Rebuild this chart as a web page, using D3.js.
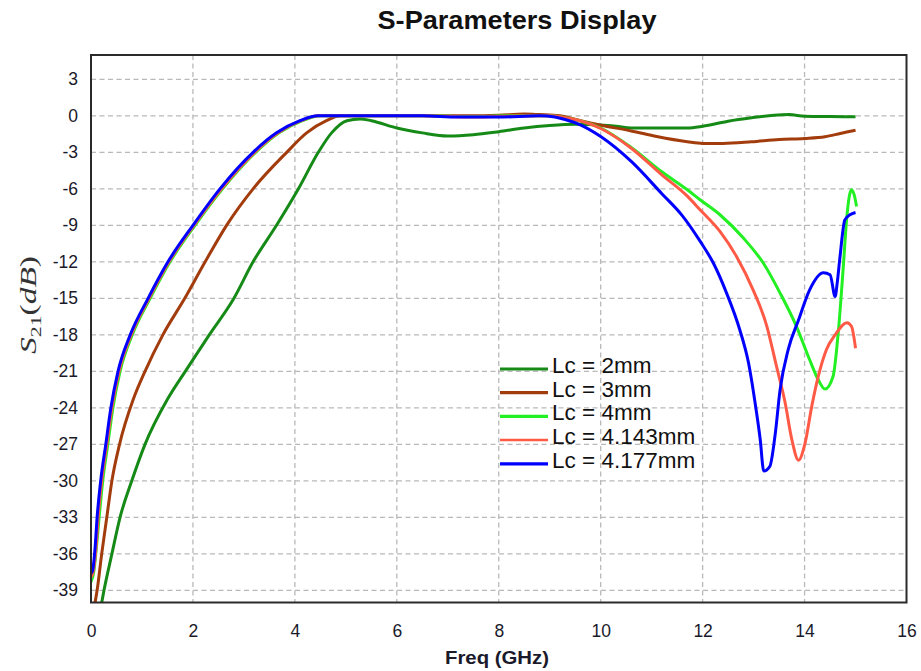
<!DOCTYPE html>
<html>
<head>
<meta charset="utf-8">
<script src="https://cdn.jsdelivr.net/npm/d3@7"></script>
<style>
  html, body { margin: 0; padding: 0; background: #fff; }
  svg { display: block; }
</style>
</head>
<body>
<svg id="chart" width="921" height="671"></svg>
<script>
// S21 of the filter for several coupling lengths Lc (frequency in GHz, S21 in dB)
const seriesNames = ["Lc = 2mm", "Lc = 3mm", "Lc = 4mm", "Lc = 4.143mm", "Lc = 4.177mm"];
const seriesColors = ["#168a16", "#a33c0c", "#22f022", "#ff5a45", "#0000ff"];

const lc2Freq = [0.21, 0.255, 0.41, 0.57, 0.8, 1.06, 1.5, 1.85, 2.32, 2.79, 3.18, 3.64, 4.07, 4.46, 4.72, 5.02, 5.28, 5.5, 6.0, 6.5, 7.0, 7.5, 8.0, 8.5, 9.0, 9.5, 10.0, 10.3, 10.6, 11.2, 11.7, 12.0, 12.5, 12.96, 13.4, 13.7, 14.0, 14.5, 15.0];
const lc2S21 = [-40, -39, -36, -33, -30, -27, -23.3, -21, -18, -15.1, -12, -9, -6, -3, -1.4, -0.4, -0.25, -0.4, -1.0, -1.4, -1.65, -1.55, -1.3, -1.0, -0.8, -0.7, -0.75, -0.85, -1.0, -1.0, -1.0, -0.86, -0.44, -0.16, 0.05, 0.1, -0.03, -0.06, -0.08];

const lc3Freq = [0.08, 0.12, 0.21, 0.31, 0.41, 0.56, 0.83, 1.06, 1.41, 1.84, 2.24, 2.66, 3.18, 3.84, 4.23, 4.62, 4.89, 5.5, 6.5, 7.5, 8.0, 8.5, 8.8, 9.2, 9.6, 10.0, 10.6, 11.1, 11.7, 12.0, 12.4, 12.96, 13.5, 14.0, 14.4, 14.7, 15.0];
const lc3S21 = [-40, -39, -36, -33, -30, -27, -23.3, -21, -18, -15, -12, -9, -6, -3, -1.4, -0.4, 0, 0, 0, 0, 0.05, 0.15, 0.1, 0, -0.4, -0.77, -1.24, -1.7, -2.13, -2.27, -2.27, -2.13, -1.94, -1.86, -1.72, -1.45, -1.18];

const lc4Freq = [0, 0.05, 0.11, 0.16, 0.23, 0.33, 0.43, 0.57, 0.81, 1.16, 1.55, 2.04, 2.58, 3.23, 3.69, 4.15, 4.5, 5.5, 6.5, 7.5, 8.2, 9.0, 9.3, 9.6, 10.0, 10.6, 11.2, 11.7, 11.95, 12.34, 12.8, 13.19, 13.52, 13.84, 14.1, 14.27, 14.4, 14.56, 14.66, 14.76, 14.83, 14.92, 14.99, 15.02];
const lc4S21 = [-38.3, -37.6, -35.3, -33, -30, -27, -24, -21, -18, -15, -12, -9, -6, -3, -1.4, -0.4, 0, 0, 0, -0.05, 0, 0, -0.15, -0.4, -1.0, -2.6, -4.6, -6.08, -6.9, -8.13, -10.05, -12.1, -14.57, -17.3, -20.05, -21.7, -22.46, -21.4, -17.86, -12.4, -8.27, -6.08, -6.77, -7.45];

const lc4143Freq = [0, 0.04, 0.1, 0.14, 0.21, 0.31, 0.41, 0.55, 0.79, 1.14, 1.53, 2.02, 2.56, 3.21, 3.67, 4.12, 4.47, 5.5, 6.5, 7.5, 8.0, 9.0, 9.3, 9.6, 10.0, 10.6, 11.2, 11.7, 11.95, 12.34, 12.67, 12.99, 13.26, 13.45, 13.62, 13.75, 13.88, 14.01, 14.14, 14.27, 14.43, 14.6, 14.83, 14.92, 15.0];
const lc4143S21 = [-37.9, -37.5, -35.4, -33, -30, -27, -24, -21, -18, -15, -12, -9, -6, -3, -1.4, -0.4, 0, 0, 0, -0.1, -0.05, 0, -0.15, -0.4, -1.04, -2.66, -4.85, -6.6, -7.72, -9.5, -11.6, -14.3, -17.3, -20.6, -23.6, -26.6, -28.3, -26.9, -23.9, -21.4, -19.2, -18.0, -17.0, -17.3, -19.1];

const lc4177Freq = [0, 0.03, 0.08, 0.12, 0.19, 0.29, 0.39, 0.53, 0.77, 1.12, 1.51, 2.0, 2.53, 3.18, 3.64, 4.1, 4.45, 5.5, 6.5, 7.2, 8.0, 8.8, 9.1, 9.3, 9.6, 10.0, 10.6, 11.2, 11.6, 11.95, 12.21, 12.47, 12.73, 12.9, 13.03, 13.13, 13.2, 13.32, 13.42, 13.52, 13.68, 13.88, 14.1, 14.37, 14.5, 14.6, 14.64, 14.69, 14.79, 14.89, 15.0];
const lc4177S21 = [-37.6, -37.4, -35.5, -33, -30, -27, -24, -21, -18, -15, -12, -9, -6, -3, -1.4, -0.4, 0, 0, 0, -0.1, -0.1, 0, -0.1, -0.3, -0.74, -1.7, -3.75, -6.4, -8.2, -10.3, -12.1, -14.57, -17.6, -20.3, -23.6, -26.6, -29.2, -28.8, -26.3, -22.5, -19.2, -16.8, -14.3, -12.9, -13.06, -14.85, -13.75, -11.8, -8.55, -8.13, -7.94];

const freqSets = [lc2Freq, lc3Freq, lc4Freq, lc4143Freq, lc4177Freq];
const s21Sets = [lc2S21, lc3S21, lc4S21, lc4143S21, lc4177S21];

const xTicks = [0, 2, 4, 6, 8, 10, 12, 14, 16];
const yTicks = [3, 0, -3, -6, -9, -12, -15, -18, -21, -24, -27, -30, -33, -36, -39];

const svg = d3.select("#chart");
const plot = { left: 91, right: 906.5, top: 55, bottom: 602.5 };

svg.append("rect").attr("width", 921).attr("height", 671).attr("fill", "#fff");

const x = d3.scaleLinear().domain([0, 16]).range([plot.left, plot.right]);
const y = d3.scaleLinear().domain([-40, 5]).range([plot.bottom, plot.top]);

// dashed grid
const grid = svg.append("g").attr("stroke", "#b9b9b9").attr("stroke-width", 1.3)
  .attr("stroke-dasharray", "5,3.5");
grid.selectAll("line.v").data(xTicks.filter(t => t > 0 && t < 16)).join("line")
  .attr("class", "v")
  .attr("x1", d => x(d)).attr("x2", d => x(d))
  .attr("y1", plot.top).attr("y2", plot.bottom);
grid.selectAll("line.h").data(yTicks).join("line")
  .attr("class", "h")
  .attr("x1", plot.left).attr("x2", plot.right)
  .attr("y1", d => y(d)).attr("y2", d => y(d));

// axes (labels only; the frame is drawn separately)
const plain = d => String(d);
const xAxis = d3.axisBottom(x).tickValues(xTicks).tickFormat(plain).tickSize(0).tickPadding(22);
const yAxis = d3.axisLeft(y).tickValues(yTicks).tickFormat(plain).tickSize(0).tickPadding(13);
const gx = svg.append("g").attr("transform", `translate(0,${plot.bottom})`).call(xAxis);
const gy = svg.append("g").attr("transform", `translate(${plot.left},0)`).call(yAxis);
[gx, gy].forEach(g => {
  g.select(".domain").remove();
  g.attr("font-family", "Liberation Sans, Arial, sans-serif").attr("font-size", 17.5);
  g.selectAll("text").attr("fill", "#1a1a2a");
});

// curves
svg.append("clipPath").attr("id", "plotClip").append("rect")
  .attr("x", plot.left).attr("y", plot.top)
  .attr("width", plot.right - plot.left).attr("height", plot.bottom - plot.top);

const path = d3.line().x(d => x(d[0])).y(d => y(d[1])).curve(d3.curveMonotoneX);

const curves = svg.append("g").attr("clip-path", "url(#plotClip)");
seriesNames.forEach((name, i) => {
  const pts = freqSets[i].map((f, k) => [f, s21Sets[i][k]]);
  curves.append("path").datum(pts)
    .attr("fill", "none").attr("stroke", seriesColors[i])
    .attr("stroke-width", 3).attr("stroke-linejoin", "round")
    .attr("d", path);
});

// frame
svg.append("rect").attr("x", plot.left).attr("y", plot.top)
  .attr("width", plot.right - plot.left).attr("height", plot.bottom - plot.top)
  .attr("fill", "none").attr("stroke", "#2a2a2a").attr("stroke-width", 2);

// title
svg.append("text").attr("x", 517).attr("y", 29).attr("text-anchor", "middle")
  .attr("font-family", "Liberation Sans, Arial, sans-serif").attr("font-weight", "bold")
  .attr("font-size", 25).attr("fill", "#111")
  .attr("textLength", 279).attr("lengthAdjust", "spacingAndGlyphs")
  .text("S-Parameters Display");

// x axis title
svg.append("text").attr("x", 497).attr("y", 664).attr("text-anchor", "middle")
  .attr("font-family", "Liberation Sans, Arial, sans-serif").attr("font-weight", "bold")
  .attr("font-size", 18.5).attr("fill", "#1a1a2a")
  .attr("textLength", 104).attr("lengthAdjust", "spacingAndGlyphs")
  .text("Freq (GHz)");

// y axis title: S21(dB)
const yt = svg.append("text").attr("transform", "translate(36,305) rotate(-90)")
  .attr("text-anchor", "middle").attr("font-family", "Liberation Serif, DejaVu Serif, serif")
  .attr("font-size", 23).attr("fill", "#333")
  .attr("textLength", 98).attr("lengthAdjust", "spacingAndGlyphs");
yt.append("tspan").attr("font-style", "italic").text("S");
yt.append("tspan").attr("font-size", 15).attr("dy", 5).text("21");
yt.append("tspan").attr("dy", -5).text("(");
yt.append("tspan").attr("font-style", "italic").text("dB");
yt.append("tspan").text(")");

// legend
const legend = svg.append("g");
seriesNames.forEach((name, i) => {
  const ly = 369 + i * 23.7;
  legend.append("line").attr("x1", 500).attr("x2", 548).attr("y1", ly).attr("y2", ly)
    .attr("stroke", seriesColors[i]).attr("stroke-width", i === 3 ? 2.5 : 3.2);
  legend.append("text").attr("x", 552).attr("y", ly + 4)
    .attr("font-family", "Liberation Sans, Arial, sans-serif").attr("font-size", 22.5)
    .attr("fill", "#111").text(name);
});
</script>
</body>
</html>
